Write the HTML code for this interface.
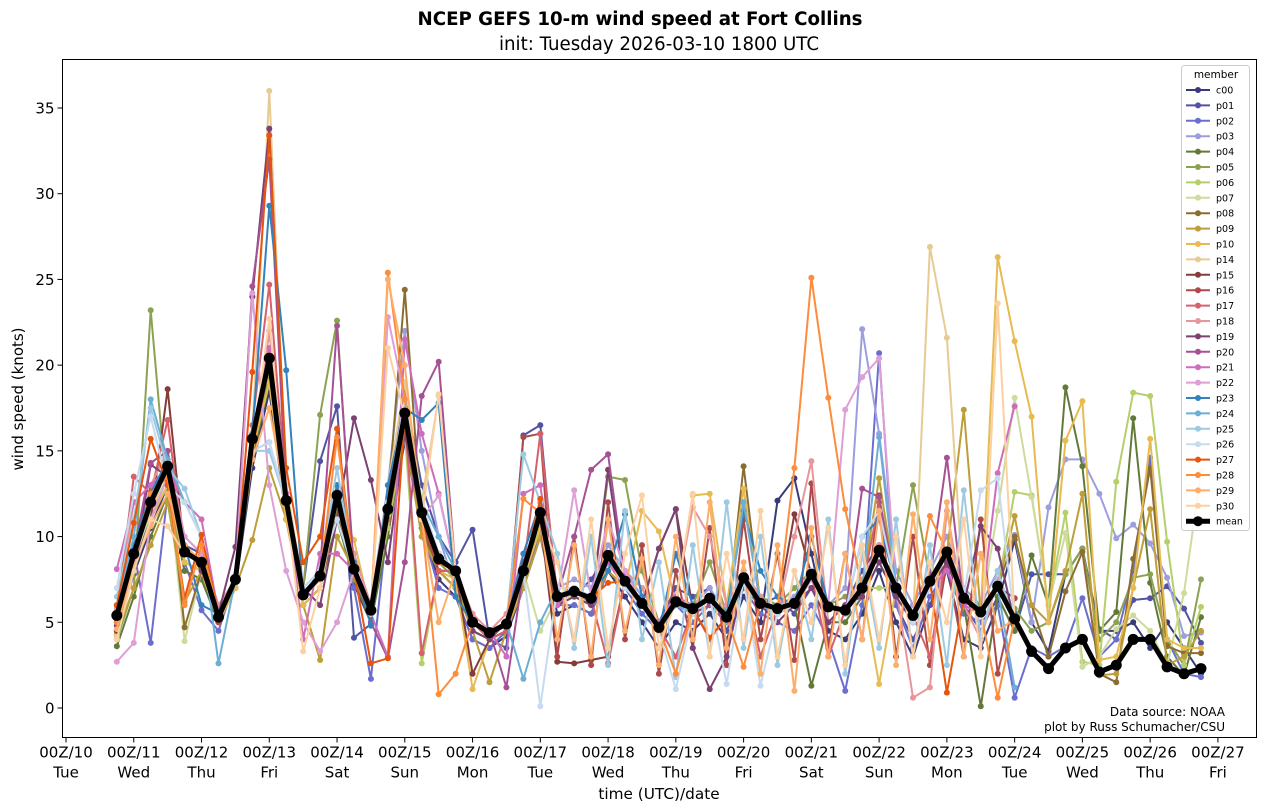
<!DOCTYPE html>
<html><head><meta charset="utf-8"><style>
html,body{margin:0;padding:0;background:#fff;}
svg{display:block;font-family:"DejaVu Sans","Liberation Sans",sans-serif;}
</style></head><body>
<svg id="chart" width="1266" height="812" viewBox="0 0 1266 812" xmlns="http://www.w3.org/2000/svg">
<rect x="0" y="0" width="1266" height="812" fill="#fff"/>
<text x="640" y="25" text-anchor="middle" font-size="18.2" font-weight="bold">NCEP GEFS 10-m wind speed at Fort Collins</text>
<text x="659" y="50" text-anchor="middle" font-size="18.2">init: Tuesday 2026-03-10 1800 UTC</text>
<text transform="translate(23,399) rotate(-90)" text-anchor="middle" font-size="15">wind speed (knots)</text>
<text x="659" y="799" text-anchor="middle" font-size="15.3">time (UTC)/date</text>
<g id="plot"></g>
<text x="1225" y="716" text-anchor="end" font-size="12">Data source: NOAA</text>
<text x="1225" y="731" text-anchor="end" font-size="12">plot by Russ Schumacher/CSU</text>
<rect x="62.5" y="59.5" width="1194" height="678" fill="none" stroke="#000" stroke-width="1"/>
<g id="legend"></g>
</svg>
<script>
const members = ["c00","p01","p02","p03","p04","p05","p06","p07","p08","p09","p10","p14","p15","p16","p17","p18","p19","p20","p21","p22","p23","p24","p25","p26","p27","p28","p29","p30"];
const colors = ["#393b79","#5254a3","#6b6ecf","#9c9ede","#637939","#8ca252","#b5cf6b","#cedb9c","#8c6d31","#bd9e39","#e7ba52","#e7cb94","#843c39","#ad494a","#d6616b","#e7969c","#7b4173","#a55194","#ce6dbd","#de9ed6","#3182bd","#6baed6","#9ecae1","#c6dbef","#e6550d","#fd8d3c","#fdae6b","#fdd0a2"];
const startDay = 0.75; // days after 00Z/10
const stepDays = 0.25;
const shortMemberLen = 54;
const yTicks = [0,5,10,15,20,25,30,35];
const xTickLabels = ["00Z/10","00Z/11","00Z/12","00Z/13","00Z/14","00Z/15","00Z/16","00Z/17","00Z/18","00Z/19","00Z/20","00Z/21","00Z/22","00Z/23","00Z/24","00Z/25","00Z/26","00Z/27"];
const xDayLabels = ["Tue","Wed","Thu","Fri","Sat","Sun","Mon","Tue","Wed","Thu","Fri","Sat","Sun","Mon","Tue","Wed","Thu","Fri"];
const meanVals = [5.4,9.0,12.0,14.1,9.1,8.5,5.3,7.5,15.7,20.4,12.1,6.6,7.7,12.4,8.1,5.7,11.6,17.2,11.4,8.7,8.0,5.0,4.4,4.9,8.0,11.4,6.5,6.8,6.4,8.9,7.4,6.1,4.7,6.2,5.8,6.4,5.3,7.6,6.1,5.8,6.1,7.8,5.9,5.7,7.0,9.2,7.0,5.4,7.4,9.1,6.4,5.6,7.1,5.2,3.3,2.3,3.5,4.0,2.1,2.5,4.0,4.0,2.4,2.0,2.3];
const c00 = [4.5,7.8,10.5,13.0,8.0,7.5,5.0,7.0,14.0,18.5,11.0,6.0,7.0,11.5,7.2,5.0,10.5,15.5,10.5,7.5,6.5,4.0,3.5,4.2,7.0,10.0,5.5,6.0,5.5,8.0,6.5,5.0,3.5,5.0,4.5,5.5,4.0,6.5,5.0,12.1,13.4,9.0,4.5,4.0,5.5,8.0,5.0,3.0,6.0,8.0,4.0,3.5,6.0,9.8,5.0,3.3,7.8,9.3,4.5,4.5,5.0,3.5,5.0,3.5,2.0];
const p01 = [5.0,8.5,11.0,14.5,9.5,9.0,5.5,7.0,15.0,22.0,12.5,7.0,14.4,17.6,4.1,4.9,12.0,18.4,13.0,10.0,8.5,10.4,4.0,3.5,15.9,16.5,6.0,6.5,7.5,9.0,8.0,7.0,5.0,7.0,6.5,7.0,4.5,7.0,6.0,6.5,5.5,7.0,5.0,6.0,8.0,9.5,6.0,4.0,6.0,8.5,6.0,4.5,6.5,4.5,7.8,7.8,7.8,9.3,4.6,4.0,6.3,6.4,7.1,5.8,3.8];
const p02 = [5.2,9.2,3.8,12.5,8.5,5.7,4.5,7.5,16.0,21.0,12.0,6.5,8.0,12.0,7.0,1.7,11.0,16.5,10.5,7.0,6.5,4.0,3.5,4.5,7.0,10.5,6.0,6.0,5.5,8.0,7.0,5.5,4.5,6.0,5.0,6.0,5.0,7.0,5.5,5.0,4.5,6.0,4.0,1.0,6.0,20.7,6.0,3.5,6.5,8.0,5.5,5.0,6.0,0.6,3.5,3.0,3.6,6.4,3.0,4.0,8.0,14.6,4.0,2.0,1.8];
const p03 = [6.0,9.5,12.5,14.0,10.0,9.0,6.0,7.5,16.0,21.0,13.0,7.0,8.0,13.0,9.0,6.0,13.0,22.0,15.0,10.0,7.0,5.0,4.5,5.0,9.0,12.0,7.0,7.5,7.0,9.5,8.0,6.5,5.0,6.5,6.0,7.0,5.5,8.0,6.5,6.0,6.5,8.0,6.0,7.0,22.1,16.0,8.0,6.0,8.0,10.0,7.0,6.0,8.0,10.1,5.0,11.7,14.5,14.5,12.5,9.9,10.7,9.6,7.6,4.2,4.4];
const p04 = [3.6,6.5,10.0,12.5,8.0,7.5,5.0,7.0,14.5,19.0,11.0,6.0,7.0,11.0,7.5,5.0,10.0,16.0,10.0,8.0,7.0,4.5,4.0,4.5,7.5,10.5,6.0,6.5,6.0,8.5,7.0,6.0,4.5,6.0,5.5,6.0,5.0,7.0,6.0,5.5,6.0,1.3,5.0,5.0,6.5,8.5,6.5,5.0,7.0,8.5,6.0,0.1,6.5,4.5,8.9,6.0,18.7,14.1,4.5,5.6,16.9,7.3,3.0,1.9,5.3];
const p05 = [4.0,7.0,23.2,12.0,8.5,8.0,5.0,7.5,15.0,19.5,12.0,7.0,17.1,22.6,7.5,5.5,11.0,16.5,11.0,8.5,7.5,4.5,4.0,5.0,8.5,11.0,6.5,7.0,6.0,13.5,13.3,8.0,5.0,6.5,6.0,8.5,5.5,8.0,6.5,6.0,7.0,8.0,6.0,6.5,7.0,9.5,7.0,13.0,7.5,9.0,6.5,6.0,7.0,5.8,4.5,5.0,7.8,9.3,4.0,5.0,7.6,7.8,4.0,2.5,7.5];
const p06 = [5.0,8.0,11.0,13.0,8.5,8.0,5.5,7.0,15.0,19.0,11.5,6.5,7.5,12.0,8.0,5.5,10.5,16.0,2.6,8.0,7.5,5.0,4.5,5.0,8.0,10.5,6.5,6.5,6.0,8.5,7.0,6.0,4.5,6.0,5.5,6.5,5.0,7.5,6.0,5.5,6.0,7.5,6.0,5.5,7.0,7.0,7.0,5.0,7.0,9.0,6.5,5.5,7.0,12.6,12.4,6.0,11.4,2.7,2.5,13.2,18.4,18.2,9.7,2.5,5.9];
const p07 = [4.5,8.5,11.5,13.5,3.9,8.0,5.0,7.0,15.0,20.0,11.5,6.5,7.5,12.0,8.0,5.5,11.0,17.0,11.0,8.5,8.0,5.0,4.5,5.0,8.0,4.5,6.5,6.5,6.0,8.5,7.0,6.0,4.5,6.0,5.5,6.5,5.0,7.5,6.0,5.5,6.0,7.5,6.0,5.5,7.0,9.0,7.0,5.0,7.0,9.0,6.5,5.5,11.5,18.1,12.3,6.0,10.2,2.4,3.0,4.6,5.4,4.5,2.5,6.7,13.8];
const p08 = [4.2,8.0,13.0,14.0,4.7,8.0,5.0,7.0,15.0,20.0,11.0,6.0,7.0,11.5,8.0,5.5,12.0,24.4,10.5,8.0,7.0,4.5,4.0,4.5,7.5,10.5,6.0,6.5,6.0,8.5,7.0,6.0,4.5,6.0,5.5,6.0,5.0,14.1,6.0,5.5,6.0,7.5,6.0,5.5,7.0,9.0,7.0,5.0,7.0,9.0,6.5,5.5,7.0,10.0,6.0,3.0,6.8,9.1,2.0,1.5,8.7,14.0,3.6,3.2,3.2];
const p09 = [4.3,7.0,9.5,12.0,6.2,8.0,5.0,7.0,9.8,14.0,11.0,6.0,2.8,10.0,8.0,5.5,11.0,16.0,10.0,8.0,7.0,4.5,1.5,4.5,7.0,10.0,6.0,6.5,6.0,8.0,7.0,6.0,4.5,6.0,5.5,6.0,5.0,12.0,6.0,5.5,6.0,7.5,6.0,5.5,7.0,13.4,7.0,5.0,7.0,9.0,17.4,5.5,7.0,11.2,6.0,5.0,8.0,12.5,1.9,2.0,7.0,11.6,2.5,3.0,4.5];
const p10 = [4.0,8.0,11.0,13.0,8.5,8.0,5.0,7.0,15.0,19.0,11.0,6.0,7.0,12.0,9.8,5.5,11.0,17.0,11.0,8.0,7.5,1.1,4.0,4.5,7.5,10.5,6.0,6.5,6.0,8.5,7.0,11.5,10.3,6.0,12.4,12.5,6.0,12.8,6.0,5.5,6.0,7.5,6.0,5.5,7.0,1.4,7.0,5.0,7.0,9.0,6.5,5.5,26.3,21.4,17.0,5.0,15.6,17.9,2.8,3.0,7.0,15.7,4.0,3.5,3.5];
const p14 = [4.2,8.0,11.0,14.5,9.0,8.5,5.5,7.5,16.0,36.0,13.0,7.0,8.0,13.0,8.0,5.5,13.0,19.0,12.0,18.2,8.0,5.0,4.5,5.0,8.0,11.5,6.5,7.0,6.5,9.0,7.5,6.0,4.5,6.0,5.5,6.5,5.0,7.5,6.0,5.5,6.0,7.5,6.0,5.5,7.0,9.0,7.0,5.0,26.9,21.6,6.5,5.5,7.0,5.0];
const p15 = [4.5,8.0,11.0,18.6,9.0,8.5,5.5,7.5,15.5,20.0,12.0,6.5,7.5,12.0,8.0,5.5,11.0,17.0,11.0,8.0,8.0,2.0,4.0,4.5,8.0,11.0,2.7,2.6,2.8,3.0,7.4,6.1,9.3,11.6,5.8,6.4,5.3,7.6,6.1,5.8,11.3,7.8,5.9,5.7,7.0,9.2,7.0,5.4,7.4,9.1,6.4,5.6,7.1,6.4];
const p16 = [5.0,8.5,12.0,14.0,9.0,8.5,5.0,7.5,15.5,20.0,12.0,6.5,7.5,12.0,8.0,5.5,11.0,17.0,11.0,8.0,8.0,5.0,4.0,4.5,15.8,16.0,3.0,10.0,2.5,12.0,4.0,9.5,2.0,8.0,3.5,10.5,2.5,11.0,4.0,9.0,2.8,13.1,3.5,9.0,4.0,12.4,3.0,10.0,2.5,8.5,3.0,11.0,2.0,6.4];
const p17 = [5.5,13.5,12.5,16.8,9.0,8.5,5.5,7.5,16.5,24.7,12.5,6.5,7.5,12.0,8.0,5.5,11.0,17.0,3.2,8.0,8.0,5.0,4.0,4.5,8.0,16.0,6.5,6.8,6.4,2.6,7.4,6.1,4.7,3.0,5.8,4.0,5.3,7.6,3.0,5.8,6.1,7.8,3.0,5.7,7.0,12.0,7.0,5.4,3.0,9.1,6.4,5.6,7.1,5.2];
const p18 = [5.8,12.0,13.0,15.0,10.0,9.0,6.0,7.5,15.0,22.0,12.0,7.0,8.0,13.0,9.0,6.0,12.0,18.0,11.0,9.0,8.0,5.5,4.5,5.5,9.0,12.0,7.0,7.0,6.5,9.0,8.0,7.0,5.0,6.5,11.7,10.0,6.0,8.0,6.5,5.5,10.0,14.4,5.0,6.0,7.5,9.5,7.0,0.6,1.2,11.5,6.0,4.0,7.5,5.5];
const p19 = [4.8,8.0,14.2,13.5,9.5,8.0,5.5,9.4,24.0,33.8,12.0,7.0,6.0,11.0,16.9,13.3,8.5,16.0,11.0,9.0,8.0,4.5,4.0,5.0,8.5,11.0,6.0,6.5,6.0,13.9,7.0,6.0,9.3,11.6,3.5,1.1,3.0,7.5,6.0,5.0,6.0,7.0,5.0,6.0,6.5,8.5,6.5,5.0,7.0,8.5,6.0,10.6,9.3,5.0];
const p20 = [5.0,9.0,14.3,15.0,9.5,8.5,5.5,7.5,24.6,32.0,12.5,6.5,8.0,22.3,8.0,5.0,2.9,8.5,18.2,20.2,8.0,5.0,4.5,1.2,8.0,11.5,6.5,10.0,13.9,14.8,7.5,6.0,4.5,6.0,5.5,6.0,5.0,7.5,6.0,5.5,6.0,7.5,6.0,5.5,12.8,12.3,7.0,5.0,7.5,14.6,6.0,5.5,7.0,5.0];
const p21 = [8.1,12.0,13.0,14.0,12.0,11.0,5.5,7.5,16.0,21.0,12.5,4.0,9.0,9.0,8.0,5.5,3.0,21.5,16.0,12.5,8.0,5.0,4.5,3.0,12.5,13.0,6.0,7.0,6.5,8.5,7.0,6.0,5.0,6.5,6.0,6.5,5.5,7.5,6.0,5.5,6.0,7.5,6.0,5.5,7.0,9.0,7.0,5.0,7.0,8.0,6.0,5.5,13.7,17.6];
const p22 = [2.7,3.8,11.0,13.5,10.0,9.0,5.5,7.5,24.2,13.0,8.0,5.0,3.3,5.0,8.0,5.5,22.8,18.0,11.0,12.4,8.0,5.0,4.5,5.0,8.0,11.0,6.5,12.7,6.5,11.0,8.0,6.0,4.5,6.0,5.5,6.5,5.0,7.5,6.0,5.5,6.0,7.5,6.0,17.4,19.3,20.4,7.0,5.0,7.5,9.0,6.5,5.5,7.0,5.0];
const p23 = [5.5,9.5,12.5,14.5,9.5,6.0,5.5,7.5,16.0,29.3,19.7,6.5,8.0,13.0,8.5,4.8,13.0,17.5,16.8,17.8,6.5,5.0,4.5,5.0,9.0,12.0,6.5,7.0,6.5,8.0,11.3,6.5,4.5,9.0,6.0,6.5,5.5,11.5,8.0,6.5,6.0,10.0,6.0,5.5,10.0,11.0,7.0,5.0,7.5,9.0,6.5,5.5,7.0,5.5];
const p24 = [6.0,10.0,18.0,14.5,12.0,10.0,2.6,7.5,15.0,15.5,12.0,7.0,8.0,12.5,8.0,5.5,12.0,17.0,12.0,10.0,8.0,5.0,4.5,5.0,1.7,5.0,7.0,7.0,6.5,9.0,7.0,6.0,4.5,6.0,5.5,6.5,5.0,12.0,6.0,5.5,6.0,8.0,6.0,5.5,7.0,15.8,7.0,5.0,7.0,9.0,6.5,5.5,7.0,1.2];
const p25 = [6.5,11.0,17.5,14.0,12.8,10.0,5.5,7.5,15.0,15.0,12.0,7.0,8.0,14.0,8.0,5.5,12.0,18.0,12.0,9.0,8.0,5.0,4.5,5.0,14.8,12.0,9.0,3.5,10.0,2.5,11.5,4.0,8.5,1.8,9.5,3.0,12.0,3.5,10.0,2.5,8.0,4.0,11.0,2.0,9.0,3.5,11.0,3.0,9.5,2.5,12.7,4.0,8.0,5.0];
const p26 = [7.0,12.5,17.0,13.0,12.0,10.0,5.5,7.5,15.0,15.5,12.0,7.0,8.0,11.0,8.0,5.5,12.0,18.0,12.0,9.0,8.0,5.0,4.5,5.0,8.0,0.1,7.0,7.0,6.5,9.0,7.0,6.0,4.5,1.1,5.5,6.5,1.4,7.5,1.3,5.5,6.0,8.0,6.0,5.5,10.0,11.5,7.0,5.0,7.0,9.0,6.5,12.7,13.4,5.0];
const p27 = [6.0,10.8,15.7,13.0,6.4,10.1,5.5,7.5,19.6,33.4,14.0,8.5,10.0,16.3,8.0,2.6,2.9,17.0,11.0,8.5,8.0,5.0,4.5,5.0,8.0,12.2,6.5,6.8,6.4,7.3,7.4,6.1,4.7,6.2,5.8,4.1,5.3,7.6,6.1,5.8,6.1,7.8,5.9,5.7,7.0,9.2,7.0,5.4,7.4,0.9,6.4,5.6,7.1,5.2];
const p28 = [5.0,9.0,12.5,13.5,6.0,9.5,5.5,7.5,15.0,20.0,12.0,6.5,7.7,15.8,8.0,5.5,25.4,18.0,11.0,0.8,2.0,5.0,4.5,5.0,12.2,11.4,6.5,6.8,6.4,8.9,7.4,6.1,4.7,2.0,5.8,6.4,5.3,2.4,6.1,5.8,14.0,25.1,18.1,11.6,7.0,9.2,7.0,5.4,11.2,9.1,6.4,5.6,0.6,5.2];
const p29 = [4.6,8.3,10.6,12.5,9.5,8.5,5.5,7.5,14.5,17.5,12.0,6.5,7.5,12.0,8.0,5.5,25.0,20.0,11.0,5.0,8.0,5.0,4.5,5.0,8.0,11.0,4.0,9.5,3.0,11.0,4.5,8.7,2.5,10.0,4.0,12.0,3.5,8.5,2.0,9.5,1.0,10.5,3.0,9.0,4.0,11.5,2.5,11.3,4.0,12.0,3.0,9.0,4.5,5.2];
const p30 = [4.0,8.0,11.0,10.6,9.0,8.5,5.5,7.5,15.0,22.7,12.0,3.3,7.0,12.0,8.0,5.5,21.0,17.0,11.0,18.3,8.0,5.0,4.5,5.0,8.0,11.0,8.5,4.0,11.0,3.5,9.0,12.4,3.5,6.2,12.5,3.0,9.0,4.0,11.5,3.0,8.0,5.0,10.5,2.5,9.5,4.0,10.0,3.0,8.5,5.0,11.0,3.0,23.6,5.2];
const memberVals = [c00,p01,p02,p03,p04,p05,p06,p07,p08,p09,p10,p14,p15,p16,p17,p18,p19,p20,p21,p22,p23,p24,p25,p26,p27,p28,p29,p30];

const NS = "http://www.w3.org/2000/svg";
const L = 62.5, R = 1256.5, T = 59.5, B = 737.5;
function xScale(day){ return 66 + day * 67.76; }
function yScale(v){ return 708 - v * 17.143; }
function el(tag, attrs, parent){ const e = document.createElementNS(NS, tag); for (const k in attrs) e.setAttribute(k, attrs[k]); parent.appendChild(e); return e; }
const plot = document.getElementById('plot');

yTicks.forEach(function(v){
  const y = yScale(v);
  const tk = el('line', {x1: L-5, x2: L, y1: y, y2: y, stroke: '#000'}, plot);
  
  
  const tx = el('text', {x: L-8, y: y+5.5, 'text-anchor': 'end', 'font-size': 15}, plot);
  tx.textContent = v;
  
  
});
xTickLabels.forEach(function(lab, i){
  const x = xScale(i);
  const tk = el('line', {x1: x, x2: x, y1: B, y2: B+5, stroke: '#000'}, plot);
  
  
  const t1 = el('text', {x: x, y: B+20, 'text-anchor': 'middle', 'font-size': 15}, plot);
  t1.textContent = lab;
  
  
  const t2 = el('text', {x: x, y: B+40, 'text-anchor': 'middle', 'font-size': 15}, plot);
  t2.textContent = xDayLabels[i];
  
  
});

function drawSeries(vals, color, lw, r, name){
  const g = el('g', {}, plot);
  
  
  const pts = vals.map(function(v, i){ return xScale(startDay + i*stepDays).toFixed(1) + ',' + yScale(v).toFixed(1); }).join(' ');
  const pl = el('polyline', {points: pts, fill: 'none', stroke: color, 'stroke-width': lw, 'stroke-linejoin': 'round'}, g);
  
  
  vals.forEach(function(v, i){
    const c = el('circle', {cx: xScale(startDay + i*stepDays), cy: yScale(v), r: r, fill: color}, g);
    
    
  });
}
memberVals.forEach(function(vals, k){
  const v = k >= 11 ? vals.slice(0, shortMemberLen) : vals;
  drawSeries(v, colors[k], 2, 3, 'series-' + members[k]);
});
drawSeries(meanVals, '#000', 5, 5.5, 'series-mean');

const lg = document.getElementById('legend');
const box = el('rect', {x: 1181.5, y: 65.5, width: 68, height: 465, rx: 3, fill: '#fff', 'fill-opacity': 0.85, stroke: '#ccc'}, lg);


const lt = el('text', {x: 1216, y: 78, 'text-anchor': 'middle', 'font-size': 10.5}, lg);
lt.textContent = 'member';


members.concat(['mean']).forEach(function(m, i){
  const y = 90 + i * 15.4;
  const isMean = m === 'mean';
  const col = isMean ? '#000' : colors[i];
  const g = el('g', {}, lg);
  
  
  el('line', {x1: 1186, x2: 1210, y1: y, y2: y, stroke: col, 'stroke-width': isMean ? 5 : 2}, g);
  el('circle', {cx: 1198, cy: y, r: isMean ? 5 : 3, fill: col}, g);
  const t = el('text', {x: 1216, y: y + 3.5, 'font-size': 9.5}, g);
  t.textContent = m;
});
</script>
</body></html>
